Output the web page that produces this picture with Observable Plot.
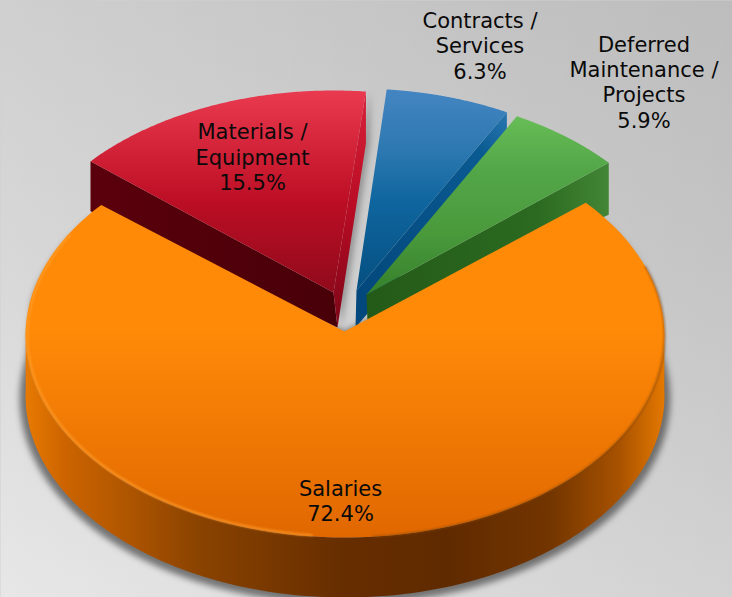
<!DOCTYPE html>
<html><head><meta charset="utf-8">
<script src="https://cdn.jsdelivr.net/npm/d3@7"></script>
<script src="https://cdn.jsdelivr.net/npm/@observablehq/plot@0.6"></script>
<style>
html,body{margin:0;padding:0;background:#d0d0d0;overflow:hidden}
svg{display:block}
.soft{filter:blur(3px)}
.softer{filter:blur(1px)}
</style></head><body><div id="chart"></div>
<script>
const categories = ["Salaries","Materials / Equipment","Contracts / Services","Deferred Maintenance / Projects"];
const shares = [72.4,15.5,6.3,5.9];
const labelLines = ["Salaries\n72.4%","Materials /\nEquipment\n15.5%","Contracts /\nServices\n6.3%","Deferred\nMaintenance /\nProjects\n5.9%"];
const labelX = [340,252,479.5,643.5];
const labelY = [500,156,44.5,81];

// Pie geometry (pixel-valued domain)
const rx = 319.5, ry = 202, depth = 60, startDeg = 49.3;
const centers = [[344.5,335],[333,292],[356,290],[366,294]];
const tips = [[344,331],[333,292],[356,290],[366,294]];
const total = d3.sum(shares);
let acc = startDeg;
const slices = shares.map((v,i)=>{
  const a0 = acc, a1 = acc + v/total*360; acc = a1;
  return {i,a0,a1,c:centers[i],t:tips[i]};
});
slices[0].a0 -= .4; slices[0].a1 += .6;
slices[1].a0 += .8; slices[1].a1 += .4;
const pt = (c,deg,dy=0,k=1)=>{const r=deg*Math.PI/180;return {x:c[0]+k*rx*Math.sin(r),y:c[1]-k*ry*Math.cos(r)+dy}};
const arc = (c,a0,a1,dy=0,k=1,n=120)=>d3.range(n+1).map(j=>pt(c,a0+(a1-a0)*j/n,dy,k));
const P = (x,y)=>({x,y});
const face = s=>[P(s.t[0],s.t[1]),...arc(s.c,s.a0,s.a1)];
const shift = (pts,dx,dy)=>pts.map(p=>P(p.x+dx,p.y+dy));

const [orange,red,blue,green] = slices;
const outerL = (s,dy)=>pt(s.c,s.a0,dy), outerR=(s,dy)=>pt(s.c,s.a1,dy);
const poly = (pts,fill,extra={})=>Plot.line(pts,{x:"x",y:"y",curve:"linear-closed",fill,stroke:"none",...extra});

const redLeftWall = [P(red.t[0],red.t[1]),outerL(red,0),outerL(red,50),P(337,327)];
const redRightWall = [P(red.t[0],red.t[1]),outerR(red,0),outerR(red,52),P(337,327)];
const blueRightWall = [P(blue.t[0],blue.t[1]),outerR(blue,0),outerR(blue,40),P(355,327)];
const greenRightWall = [P(green.t[0],green.t[1]),outerR(green,0),outerR(green,52),P(367,322)];
const orangeWall = [...arc(orange.c,88,272),...arc(orange.c,272,88,depth)];
const orangeShadow = [P(orange.t[0],orange.t[1]),...arc(orange.c,orange.a0,78,6,1.0),...arc(orange.c,78,282,depth+3,1.018),...arc(orange.c,282,orange.a1,6,1.0)];

const stops = (g,list)=>list.forEach(([o,c,op])=>{const s=g.append("stop").attr("offset",o).attr("stop-color",c);if(op!=null)s.attr("stop-opacity",op)});
function defs(){
  const d = d3.create("svg:defs");
  const grad=(id,x1,y1,x2,y2,list)=>{const g=d.append("linearGradient").attr("id",id).attr("gradientUnits","userSpaceOnUse")
    .attr("x1",x1).attr("y1",y1).attr("x2",x2).attr("y2",y2);stops(g,list)};
  grad("bg",0,0,0,597,[[0,"#cfcfcf"],[.45,"#d8d8d8"],[1,"#e7e7e7"]]);
  grad("bgX",0,0,732,0,[[0,"#000",0],[1,"#000",.09]]);
  grad("fO",0,330,0,540,[[0,"#ff8a08"],[1,"#e06700"]]);
  grad("fR",0,90,0,292,[[0,"#ea3a50"],[.2,"#da2a40"],[.55,"#bc0e24"],[1,"#900a1c"]]);
  grad("fB",0,90,0,290,[[0,"#4385c2"],[.3,"#2d78b0"],[.55,"#0f669f"],[1,"#054f80"]]);
  grad("fG",0,118,0,294,[[0,"#66bc56"],[.3,"#53a648"],[.65,"#4a9a3c"],[1,"#35802b"]]);
  grad("wR",0,90,0,327,[[0,"#d8223a"],[.5,"#b80c24"],[1,"#7c0618"]]);
  grad("wRL",91,0,337,0,[[0,"#5a000c"],[1,"#480008"]]);
  grad("wG",367,0,609,0,[[0,"#245a18"],[.7,"#2b6a20"],[1,"#438636"]]);
  grad("wB",356,290,508,114,[[0,"#03487c"],[.8,"#0a5a92"],[1,"#2a77b0"]]);
  grad("wO",25,0,664,0,[[0,"#e87a02"],[.06,"#cc6400"],[.13,"#b85a00"],[.27,"#8a4300"],[.5,"#662d00"],[.66,"#602a00"],[.82,"#723500"],[.93,"#a85200"],[1,"#e47800"]]);
  return d.node();
}
const plot = Plot.plot({
  width:732,height:597,margin:0,
  x:{domain:[0,732],range:[0,732],axis:null},
  y:{domain:[0,597],range:[0,597],axis:null},
  style:{background:"transparent",overflow:"visible"},
  marks:[
    defs,
    Plot.frame({fill:"url(#bg)",stroke:"none"}),
    Plot.frame({fill:"url(#bgX)",stroke:"none"}),
    poly(orangeShadow,"#444",{className:"soft",fillOpacity:.7}),
    poly(shift(redRightWall,4,0),"#777",{className:"soft",fillOpacity:.7}),
    poly(redLeftWall,"url(#wRL)"),
    poly(redRightWall,"url(#wR)"),
    poly(face(red),"url(#fR)"),
    poly(blueRightWall,"url(#wB)"),
    poly(face(blue),"url(#fB)"),
    poly(greenRightWall,"url(#wG)"),
    poly(face(green),"url(#fG)"),
    poly(orangeWall,"url(#wO)"),
    poly(face(orange),"url(#fO)"),
    Plot.line(arc(orange.c,186,300,0,.994),{x:"x",y:"y",stroke:"#ffa030",strokeWidth:2,strokeOpacity:.8,className:"softer"}),
    Plot.line(arc(orange.c,70,175),{x:"x",y:"y",stroke:"#8a4500",strokeWidth:1.5,strokeOpacity:.7,className:"softer"}),
    Plot.text(categories,{x:(d,i)=>labelX[i],y:(d,i)=>labelY[i],text:(d,i)=>labelLines[i],
      fontFamily:"DejaVu Sans",fontSize:21,lineHeight:1.21,fill:"#0a0a0a",textAnchor:"middle"})
  ]
});
document.getElementById("chart").append(plot);
</script></body></html>
